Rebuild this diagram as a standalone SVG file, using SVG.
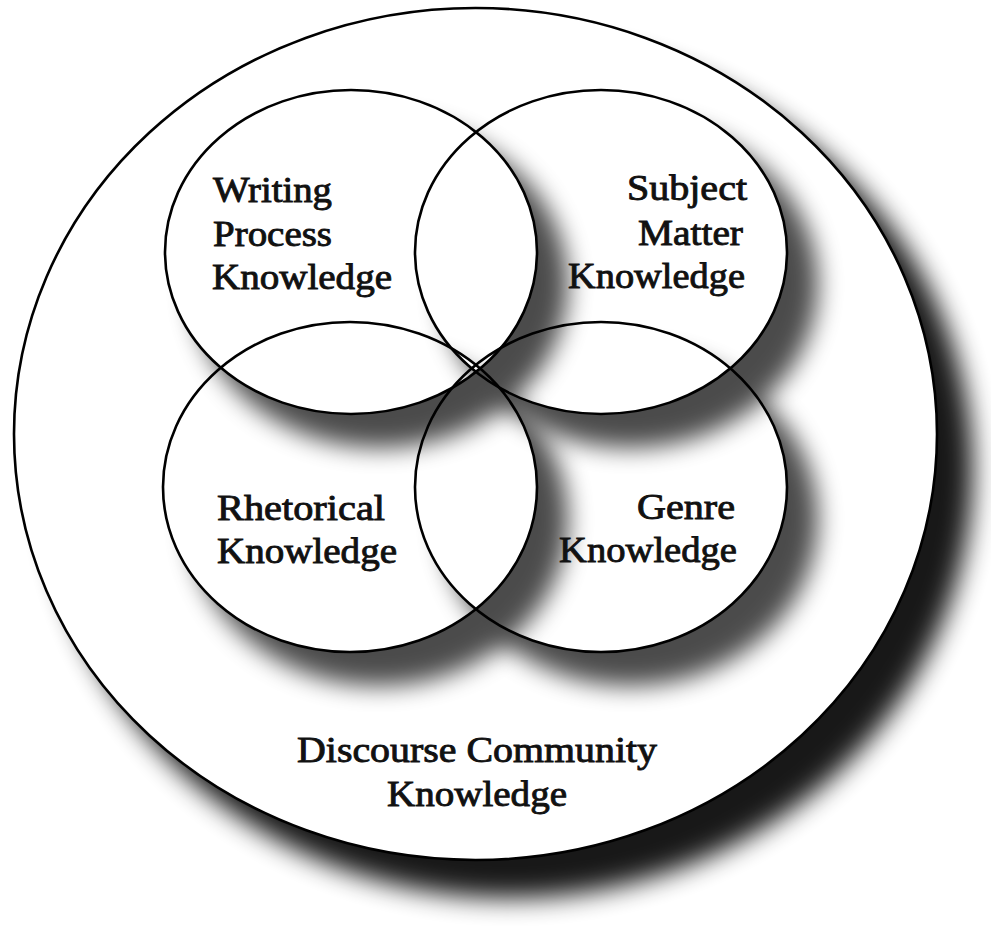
<svg xmlns="http://www.w3.org/2000/svg" width="991" height="929" viewBox="0 0 991 929">
  <style>
    .ring { fill: none; stroke: #000; stroke-width: 2.6; }
    .lbl { font-family: "Liberation Serif", "Times New Roman", serif; font-size: 36px; fill: #111; stroke: #111; stroke-width: 0.9; }
    .sh { fill: #000; filter: url(#blur); }
  </style>
  <defs>
    <filter id="blur" x="-30%" y="-30%" width="160%" height="160%">
      <feGaussianBlur stdDeviation="12"/>
    </filter>
    <filter id="blurBig" x="-20%" y="-20%" width="140%" height="140%">
      <feGaussianBlur stdDeviation="13"/>
    </filter>
    <mask id="mTL" maskUnits="userSpaceOnUse" x="0" y="0" width="991" height="929">
      <rect width="991" height="929" fill="#fff"/>
      <ellipse cx="351" cy="252" rx="186" ry="162" fill="#000"/>
    </mask>
    <mask id="mTR" maskUnits="userSpaceOnUse" x="0" y="0" width="991" height="929">
      <rect width="991" height="929" fill="#fff"/>
      <ellipse cx="601" cy="252" rx="186" ry="162" fill="#000"/>
    </mask>
    <mask id="mBL" maskUnits="userSpaceOnUse" x="0" y="0" width="991" height="929">
      <rect width="991" height="929" fill="#fff"/>
      <ellipse cx="350" cy="487" rx="187" ry="165" fill="#000"/>
    </mask>
    <mask id="mBR" maskUnits="userSpaceOnUse" x="0" y="0" width="991" height="929">
      <rect width="991" height="929" fill="#fff"/>
      <ellipse cx="601" cy="487" rx="186" ry="165" fill="#000"/>
    </mask>
  </defs>

  <rect width="991" height="929" fill="#fff"/>

  <!-- outer shadow -->
  <ellipse cx="510" cy="470" rx="463" ry="428" fill="#000" opacity="0.9" filter="url(#blurBig)"/>

  <g id="discourse">
    <ellipse cx="475.5" cy="434" rx="461.5" ry="426" fill="#fff" stroke="#000" stroke-width="2.6"/>
  </g>

  <g id="shadows" opacity="0.7">
    <g mask="url(#mTL)"><ellipse class="sh" cx="380" cy="284" rx="188" ry="164"/></g>
    <g mask="url(#mTR)"><ellipse class="sh" cx="630" cy="284" rx="188" ry="164"/></g>
    <g mask="url(#mBL)"><ellipse class="sh" cx="379" cy="519" rx="189" ry="167"/></g>
    <g mask="url(#mBR)"><ellipse class="sh" cx="630" cy="519" rx="188" ry="167"/></g>
  </g>

  <g id="writing">
    <ellipse class="ring" cx="351" cy="252" rx="186" ry="162"/>
    <text class="lbl" x="213" y="202" textLength="119" lengthAdjust="spacingAndGlyphs">Writing</text>
    <text class="lbl" x="213" y="246" textLength="119" lengthAdjust="spacingAndGlyphs">Process</text>
    <text class="lbl" x="212" y="289" textLength="180" lengthAdjust="spacingAndGlyphs">Knowledge</text>
  </g>

  <g id="subject">
    <ellipse class="ring" cx="601" cy="252" rx="186" ry="162"/>
    <text class="lbl" x="627" y="200" textLength="120" lengthAdjust="spacingAndGlyphs">Subject</text>
    <text class="lbl" x="638" y="245" textLength="105" lengthAdjust="spacingAndGlyphs">Matter</text>
    <text class="lbl" x="568" y="288" textLength="177" lengthAdjust="spacingAndGlyphs">Knowledge</text>
  </g>

  <g id="rhetorical">
    <ellipse class="ring" cx="350" cy="487" rx="187" ry="165"/>
    <text class="lbl" x="217" y="520" textLength="168" lengthAdjust="spacingAndGlyphs">Rhetorical</text>
    <text class="lbl" x="217" y="563" textLength="180" lengthAdjust="spacingAndGlyphs">Knowledge</text>
  </g>

  <g id="genre">
    <ellipse class="ring" cx="601" cy="487" rx="186" ry="165"/>
    <text class="lbl" x="637" y="519" textLength="98" lengthAdjust="spacingAndGlyphs">Genre</text>
    <text class="lbl" x="559" y="562" textLength="178" lengthAdjust="spacingAndGlyphs">Knowledge</text>
  </g>

  <g id="discourse-label">
    <text class="lbl" x="297" y="762" textLength="360" lengthAdjust="spacingAndGlyphs">Discourse Community</text>
    <text class="lbl" x="387" y="806" textLength="180" lengthAdjust="spacingAndGlyphs">Knowledge</text>
  </g>
</svg>
